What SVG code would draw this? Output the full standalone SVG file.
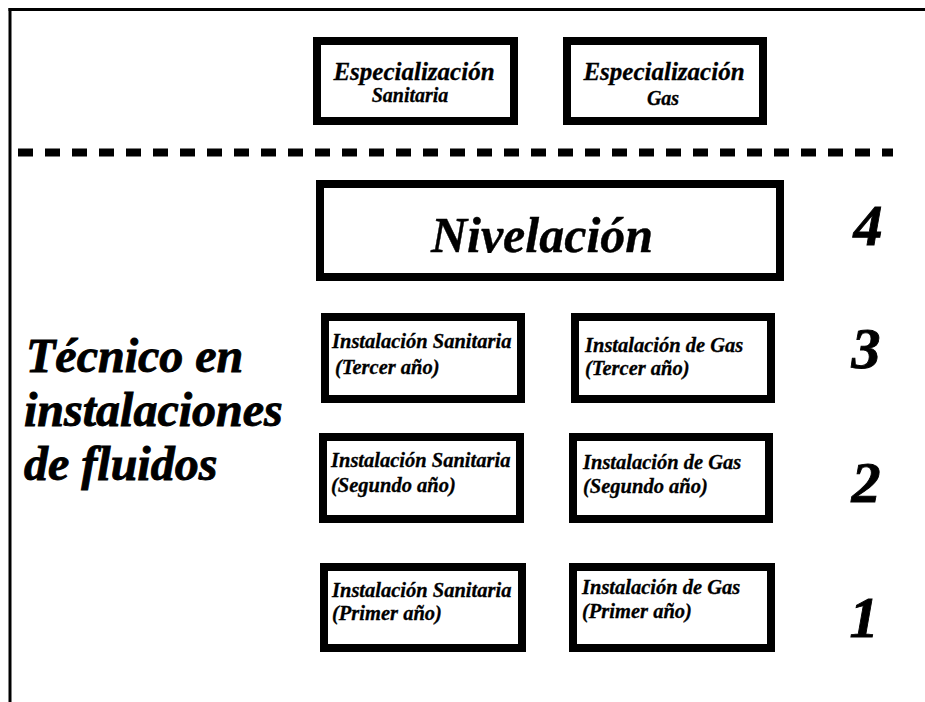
<svg xmlns="http://www.w3.org/2000/svg" width="925" height="702" viewBox="0 0 925 702">
<style>
.box{fill:#fff;stroke:#000;stroke-width:8}
text{font-family:"Liberation Serif","Times New Roman",serif;font-style:italic;font-weight:bold;fill:#000}
.t{font-size:20.5px;stroke:#000;stroke-width:0.3}
.esp{font-size:25px;stroke:#000;stroke-width:0.3}
.sub{font-size:20px;stroke:#000;stroke-width:0.3}
.big{font-size:48px;stroke:#000;stroke-width:0.9}
.num{font-size:58px;stroke:#000;stroke-width:0.9}
.niv{font-size:50px;stroke:#000;stroke-width:0.4}
</style>
<rect width="925" height="702" fill="#fff"/>
<g id="frame">
<line x1="8.5" y1="9.5" x2="925" y2="9.5" stroke="#000" stroke-width="3"/>
<line x1="10" y1="8" x2="10" y2="702" stroke="#000" stroke-width="3"/>
</g>
<g id="connectors">
<line x1="18" y1="152.5" x2="893" y2="152.5" stroke="#000" stroke-width="8" stroke-dasharray="15 12"/>
</g>
<g id="esp-sanitaria">
<rect class="box" x="317" y="41" width="197" height="80"/>
<text class="esp" x="414" y="80" text-anchor="middle">Especialización</text>
<text class="sub" x="410" y="102" text-anchor="middle">Sanitaria</text>
</g>
<g id="esp-gas">
<rect class="box" x="567" y="41" width="196" height="80"/>
<text class="esp" x="664" y="80" text-anchor="middle">Especialización</text>
<text class="sub" x="663" y="105" text-anchor="middle">Gas</text>
</g>
<g id="nivelacion">
<rect class="box" x="320" y="184" width="460" height="93"/>
<text class="niv" x="542" y="252" text-anchor="middle">Nivelación</text>
</g>
<g id="san-3">
<rect class="box" x="325" y="317" width="196" height="82"/>
<text class="t" x="332" y="348">Instalación Sanitaria</text>
<text class="t" x="335" y="374">(Tercer año)</text>
</g>
<g id="gas-3">
<rect class="box" x="575" y="317" width="196" height="82"/>
<text class="t" x="585" y="352">Instalación de Gas</text>
<text class="t" x="585" y="375">(Tercer año)</text>
</g>
<g id="san-2">
<rect class="box" x="323" y="437" width="197" height="82"/>
<text class="t" x="331" y="467">Instalación Sanitaria</text>
<text class="t" x="331" y="492">(Segundo año)</text>
</g>
<g id="gas-2">
<rect class="box" x="573" y="437" width="196" height="82"/>
<text class="t" x="583" y="469">Instalación de Gas</text>
<text class="t" x="583" y="493">(Segundo año)</text>
</g>
<g id="san-1">
<rect class="box" x="324" y="567" width="198" height="81"/>
<text class="t" x="332" y="597">Instalación Sanitaria</text>
<text class="t" x="332" y="620">(Primer año)</text>
</g>
<g id="gas-1">
<rect class="box" x="573" y="567" width="198" height="81"/>
<text class="t" x="582" y="594">Instalación de Gas</text>
<text class="t" x="582" y="618">(Primer año)</text>
</g>
<g id="levels">
<text class="num" x="868" y="245" text-anchor="middle">4</text>
<text class="num" x="866" y="368" text-anchor="middle">3</text>
<text class="num" x="866" y="502" text-anchor="middle">2</text>
<text class="num" x="864" y="637" text-anchor="middle">1</text>
</g>
<g id="title">
<text class="big" x="26" y="372">Técnico en</text>
<text class="big" x="24" y="426">instalaciones</text>
<text class="big" x="24" y="480">de fluidos</text>
</g>
</svg>
